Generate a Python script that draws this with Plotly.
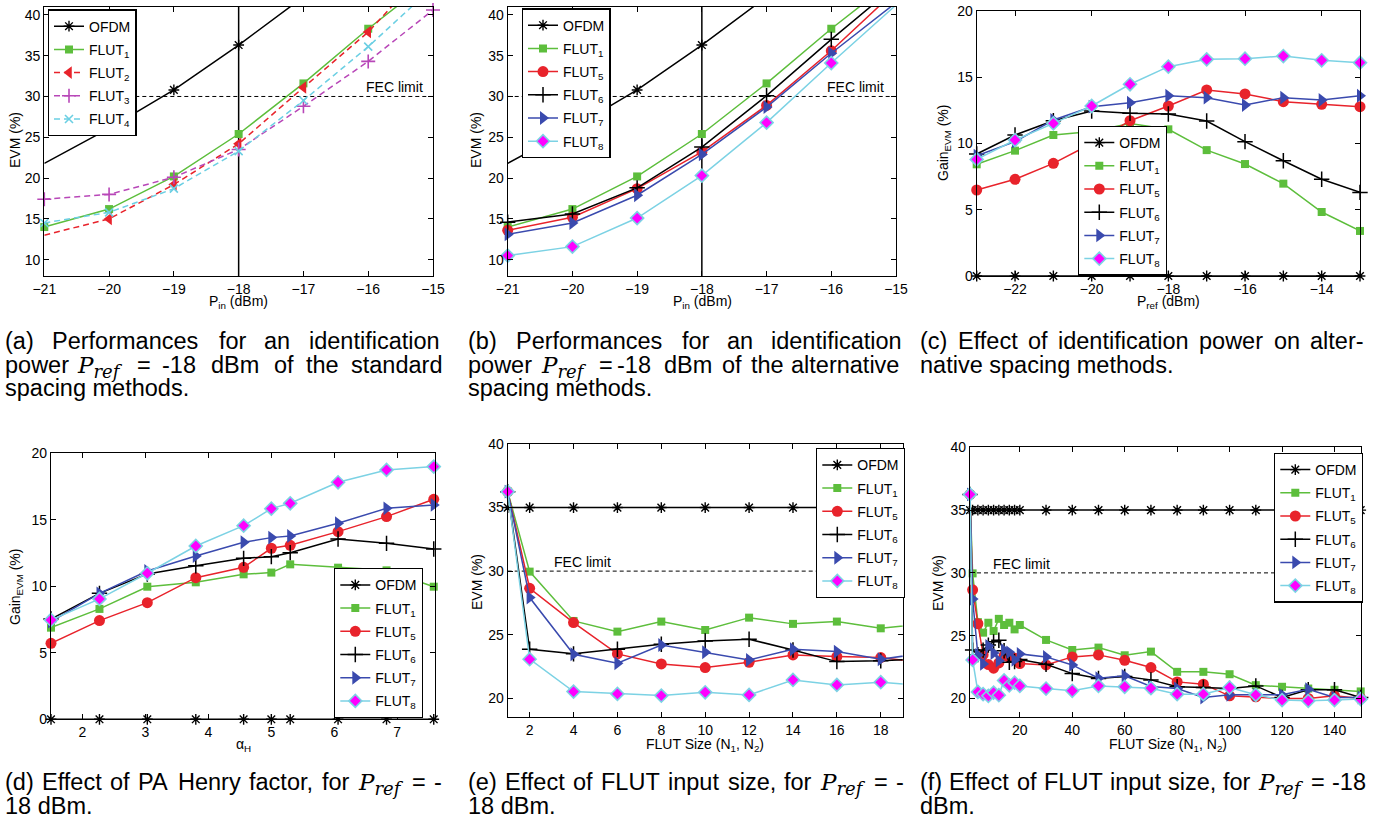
import plotly.graph_objects as go

W, H = 1381, 825

# ---------------- data ----------------
# (a) / (b): EVM vs input power
pin = [-21, -20, -19, -18, -17, -16, -15]
a_ofdm = [21.8, 26.1, 30.8, 36.3, 42.2, None, None]
a_flut1 = [14.0, 16.2, 20.2, 25.4, 31.6, 38.3, 44.5]
a_flut2 = [13.0, 15.0, 19.2, 24.2, 31.1, 37.9, 46.5]
a_flut3 = [17.4, 18.0, 20.1, 23.5, 28.8, 34.3, 40.6]
a_flut4 = [14.5, 15.8, 18.7, 23.3, 29.5, 36.1, 43.4]
b_flut5 = [13.6, 15.2, 18.7, 23.2, 28.9, 35.6, 43.0]
b_flut6 = [14.6, 15.6, 18.8, 23.8, 30.1, 37.0, 43.6]
b_flut7 = [13.1, 14.5, 17.9, 22.9, 28.7, 35.3, 41.5]
b_flut8 = [10.5, 11.6, 15.1, 20.3, 26.8, 34.1, 41.2]

# (c): gain vs identification power
pref = [-23, -22, -21, -20, -19, -18, -17, -16, -15, -14, -13]
c_ofdm = [0, 0, 0, 0, 0, 0, 0, 0, 0, 0, 0]
c_flut1 = [8.43, 9.46, 10.64, 10.9, 11.5, 11.07, 9.5, 8.45, 6.97, 4.83, 3.4]
c_flut5 = [6.49, 7.3, 8.5, 10.0, 11.72, 12.83, 14.04, 13.74, 13.16, 12.96, 12.78]
c_flut6 = [9.21, 10.64, 11.72, 12.45, 12.28, 12.23, 11.7, 10.14, 8.7, 7.3, 6.31]
c_flut7 = [9.08, 10.14, 11.77, 12.78, 13.08, 13.6, 13.46, 12.9, 13.46, 13.28, 13.6]
c_flut8 = [8.8, 10.26, 11.52, 12.83, 14.47, 15.8, 16.35, 16.4, 16.6, 16.28, 16.1]

# (d): gain vs Henry factor
alpha_h = [1.5, 2.27, 3.03, 3.8, 4.56, 5.0, 5.3, 6.06, 6.83, 7.58]
d_ofdm = [0, 0, 0, 0, 0, 0, 0, 0, 0, 0]
d_flut1 = [6.89, 8.3, 9.97, 10.3, 10.9, 11.03, 11.65, 11.4, 11.2, 9.97]
d_flut5 = [5.71, 7.42, 8.77, 10.65, 11.43, 12.86, 13.08, 14.11, 15.24, 16.54]
d_flut6 = [7.54, 9.47, 10.93, 11.55, 12.1, 12.23, 12.53, 13.56, 13.23, 12.81]
d_flut7 = [7.34, 9.47, 11.15, 12.28, 13.31, 13.66, 13.78, 14.74, 15.86, 16.12]
d_flut8 = [7.47, 9.05, 10.98, 13.03, 14.56, 15.84, 16.24, 17.82, 18.75, 19.0]

# (e) / (f): EVM vs FLUT size
nsize = [1, 2, 4, 6, 8, 10, 12, 14, 16, 18, 20, 30, 40, 50, 60, 70, 80, 90, 100, 110, 120, 130, 140, 150]
s_ofdm = [35, 35, 35, 35, 35, 35, 35, 35, 35, 35, 35, 35, 35, 35, 35, 35, 35, 35, 35, 35, 35, 35, 35, 35]
s_flut1 = [36.25, 29.96, 26.08, 25.24, 26.03, 25.37, 26.34, 25.85, 26.03, 25.5, 25.85, 24.66, 23.86, 24.05, 23.44, 23.73, 22.12, 22.12, 21.93, 21.06, 20.93, 20.79, 20.69, 20.56]
s_flut5 = [36.25, 28.65, 25.95, 23.49, 22.7, 22.41, 22.83, 23.41, 23.28, 23.2, 22.78, 22.67, 23.31, 23.47, 23.04, 22.46, 21.32, 21.14, 20.21, 20.13, 20.0, 20.0, 20.21, 20.0]
s_flut6 = [36.25, 23.85, 23.49, 23.85, 24.25, 24.51, 24.64, 23.8, 22.88, 22.94, 23.1, 22.72, 21.98, 21.59, 21.75, 21.48, 20.93, 20.87, 20.79, 21.0, 20.08, 20.69, 20.69, 20.08]
s_flut7 = [36.25, 27.92, 23.46, 22.75, 24.19, 23.62, 23.01, 23.85, 23.67, 23.07, 23.55, 23.31, 22.67, 21.61, 21.8, 20.95, 20.79, 20.08, 20.29, 20.29, 20.29, 20.74, 20.08, 20.08]
s_flut8 = [36.25, 23.07, 20.52, 20.34, 20.21, 20.47, 20.26, 21.44, 21.05, 21.26, 21.0, 20.79, 20.61, 21.0, 20.93, 20.82, 20.34, 20.34, 20.87, 20.29, 19.87, 19.81, 19.87, 19.95]

fec_limit = 30
p_ident = -18

# ---------------- styles ----------------
GREEN = '#5DBE3C'
RED = '#E8232B'
MAG = '#B847B8'
CYAN = '#6BCFE3'
BLUE = '#3A4AAE'
CYAN8 = '#7CD2E4'
LW = 1.5

STY = {
    'OFDM': dict(lc='black', dash='solid',
                 marker=dict(symbol='asterisk-open', size=9, color='black', line=dict(width=1.4, color='black'))),
    'FLUT1': dict(lc=GREEN, dash='solid',
                  marker=dict(symbol='square', size=8, color=GREEN, line=dict(width=0))),
    'FLUT2': dict(lc=RED, dash='6px,4px',
                  marker=dict(symbol='triangle-left', size=11, color=RED, line=dict(width=0))),
    'FLUT3': dict(lc=MAG, dash='6px,4px',
                  marker=dict(symbol='cross-thin-open', size=10, color=MAG, line=dict(width=1.6, color=MAG))),
    'FLUT4': dict(lc=CYAN, dash='6px,4px',
                  marker=dict(symbol='x-thin-open', size=8, color=CYAN, line=dict(width=1.6, color=CYAN))),
    'FLUT5': dict(lc=RED, dash='solid',
                  marker=dict(symbol='circle', size=11, color=RED, line=dict(width=0))),
    'FLUT6': dict(lc='black', dash='solid',
                  marker=dict(symbol='cross-thin-open', size=11, color='black', line=dict(width=1.5, color='black'))),
    'FLUT7': dict(lc=BLUE, dash='solid',
                  marker=dict(symbol='triangle-right', size=12, color=BLUE, line=dict(width=0))),
    'FLUT8': dict(lc=CYAN8, dash='solid',
                  marker=dict(symbol='diamond', size=10, color='#FF00FF', line=dict(width=1.6, color=CYAN8))),
}

LABEL = {'OFDM': 'OFDM'}
for k in range(1, 9):
    LABEL[f'FLUT{k}'] = f'FLUT<sub>{k}</sub>'

FONT = 'Liberation Sans, Arial, sans-serif'

fig = go.Figure()


def add_series(idx, x, y, key, xr, yr, skip=()):
    xa = 'x' if idx == 1 else f'x{idx}'
    ya = 'y' if idx == 1 else f'y{idx}'
    leg = 'legend' if idx == 1 else f'legend{idx}'
    st = STY[key]
    line = dict(color=st['lc'], width=LW, dash=st['dash'])
    fig.add_trace(go.Scatter(x=x, y=y, mode='lines', line=line, xaxis=xa, yaxis=ya,
                             showlegend=False, hoverinfo='skip'))
    mx, my = [], []
    for i, (xi, yi) in enumerate(zip(x, y)):
        if yi is None or i in skip:
            continue
        if xr[0] - 1e-9 <= xi <= xr[1] + 1e-9 and yr[0] - 1e-9 <= yi <= yr[1] + 1e-9:
            mx.append(xi)
            my.append(yi)
    fig.add_trace(go.Scatter(x=mx, y=my, mode='markers', marker=st['marker'], cliponaxis=False,
                             xaxis=xa, yaxis=ya, showlegend=False, hoverinfo='skip'))
    fig.add_trace(go.Scatter(x=[None], y=[None], mode='lines+markers', line=line, marker=st['marker'],
                             name=LABEL[key], legend=leg, legendgroup=f'{leg}-{key}',
                             xaxis=xa, yaxis=ya))


# panel geometry (pixels) : left, right, top, bottom
PANELS = {
    1: dict(px=(44.3, 433.0, 6.7, 276.0), xr=(-21, -15), yr=(8, 41),
            xt=[-21, -20, -19, -18, -17, -16, -15], yt=[10, 15, 20, 25, 30, 35, 40]),
    2: dict(px=(507.7, 896.0, 6.7, 276.0), xr=(-21, -15), yr=(8, 41),
            xt=[-21, -20, -19, -18, -17, -16, -15], yt=[10, 15, 20, 25, 30, 35, 40]),
    3: dict(px=(976.7, 1360.0, 11.0, 276.0), xr=(-23, -13), yr=(0, 20),
            xt=[-22, -20, -18, -16, -14], yt=[0, 5, 10, 15, 20]),
    4: dict(px=(51.0, 435.0, 453.3, 719.3), xr=(1.5, 7.6), yr=(0, 20),
            xt=[2, 3, 4, 5, 6, 7], yt=[0, 5, 10, 15, 20]),
    5: dict(px=(507.7, 902.7, 444.0, 717.3), xr=(1, 19), yr=(18.5, 40),
            xt=[2, 4, 6, 8, 10, 12, 14, 16, 18], yt=[20, 25, 30, 35, 40]),
    6: dict(px=(970.0, 1360.7, 447.3, 717.3), xr=(1, 150), yr=(18.5, 40),
            xt=[20, 40, 60, 80, 100, 120, 140], yt=[20, 25, 30, 35, 40]),
}

axis_common = dict(showline=True, linecolor='black', linewidth=1.3, mirror='ticks',
                   ticks='inside', ticklen=5, tickwidth=1, tickcolor='black',
                   showgrid=False, zeroline=False, automargin=False,
                   tickfont=dict(family=FONT, size=14, color='black'))

for i, p in PANELS.items():
    l, r, t, b = p['px']
    xk = 'xaxis' if i == 1 else f'xaxis{i}'
    yk = 'yaxis' if i == 1 else f'yaxis{i}'
    fig.update_layout({
        xk: dict(domain=[l / W, r / W], range=list(p['xr']), anchor='y' if i == 1 else f'y{i}',
                 tickvals=p['xt'], **axis_common),
        yk: dict(domain=[1 - b / H, 1 - t / H], range=list(p['yr']), anchor='x' if i == 1 else f'x{i}',
                 tickvals=p['yt'], **axis_common),
    })

# ---- traces ----
P = PANELS
add_series(1, pin, a_ofdm, 'OFDM', P[1]['xr'], P[1]['yr'], skip=(0,))
add_series(1, pin, a_flut1, 'FLUT1', P[1]['xr'], P[1]['yr'])
add_series(1, pin, a_flut2, 'FLUT2', P[1]['xr'], P[1]['yr'], skip=(0,))
add_series(1, pin, a_flut3, 'FLUT3', P[1]['xr'], P[1]['yr'])
add_series(1, pin, a_flut4, 'FLUT4', P[1]['xr'], P[1]['yr'])

add_series(2, pin, a_ofdm, 'OFDM', P[2]['xr'], P[2]['yr'], skip=(0,))
add_series(2, pin, a_flut1, 'FLUT1', P[2]['xr'], P[2]['yr'])
add_series(2, pin, b_flut5, 'FLUT5', P[2]['xr'], P[2]['yr'])
add_series(2, pin, b_flut6, 'FLUT6', P[2]['xr'], P[2]['yr'])
add_series(2, pin, b_flut7, 'FLUT7', P[2]['xr'], P[2]['yr'])
add_series(2, pin, b_flut8, 'FLUT8', P[2]['xr'], P[2]['yr'])

for key, ys in [('OFDM', c_ofdm), ('FLUT1', c_flut1), ('FLUT5', c_flut5), ('FLUT6', c_flut6),
                ('FLUT7', c_flut7), ('FLUT8', c_flut8)]:
    add_series(3, pref, ys, key, P[3]['xr'], P[3]['yr'])

for key, ys in [('OFDM', d_ofdm), ('FLUT1', d_flut1), ('FLUT5', d_flut5), ('FLUT6', d_flut6),
                ('FLUT7', d_flut7), ('FLUT8', d_flut8)]:
    add_series(4, alpha_h, ys, key, P[4]['xr'], P[4]['yr'])

for idx in (5, 6):
    for key, ys in [('OFDM', s_ofdm), ('FLUT1', s_flut1), ('FLUT5', s_flut5), ('FLUT6', s_flut6),
                    ('FLUT7', s_flut7), ('FLUT8', s_flut8)]:
        add_series(idx, nsize, ys, key, P[idx]['xr'], P[idx]['yr'])

# ---- shapes: identification power marker and FEC limit ----
shapes = []
for i in (1, 2):
    xa = 'x' if i == 1 else f'x{i}'
    ya = 'y' if i == 1 else f'y{i}'
    shapes.append(dict(type='line', xref=xa, yref=f'{ya} domain', x0=p_ident, x1=p_ident, y0=0, y1=1,
                       line=dict(color='black', width=1.5), layer='below'))
for i in (1, 2, 5, 6):
    xa = 'x' if i == 1 else f'x{i}'
    ya = 'y' if i == 1 else f'y{i}'
    shapes.append(dict(type='line', xref=f'{xa} domain', yref=ya, x0=0, x1=1, y0=fec_limit, y1=fec_limit,
                       line=dict(color='black', width=1, dash='4px,3px'), layer='below'))
fig.update_layout(shapes=shapes)

ann = []
# FEC labels
for xa, ya, xv, anchor in [('x', 'y', -15.12, 'right'), ('x2', 'y2', -15.15, 'right'),
                           ('x5', 'y5', 3.0, 'left'), ('x6', 'y6', 9.0, 'left')]:
    ann.append(dict(xref=xa, yref=ya, x=xv, y=fec_limit, xanchor=anchor, yanchor='bottom', yshift=-1,
                    text='FEC limit', showarrow=False, font=dict(family=FONT, size=14, color='black')))


def pann(text, x, y, xanchor='center', yanchor='top', size=14, angle=0, family=FONT):
    ann.append(dict(xref='paper', yref='paper', x=x / W, y=1 - y / H, xanchor=xanchor, yanchor=yanchor,
                    text=text, showarrow=False, textangle=angle, borderpad=0, borderwidth=0,
                    font=dict(family=family, size=size, color='black')))


# axis titles
pann('P<sub>in</sub> (dBm)', 238, 293)
pann('P<sub>in</sub> (dBm)', 702, 293)
pann('P<sub>ref</sub> (dBm)', 1168, 293)
pann('α<sub>H</sub>', 243, 736)
pann('FLUT Size (N<sub>1</sub>, N<sub>2</sub>)', 705, 736)
pann('FLUT Size (N<sub>1</sub>, N<sub>2</sub>)', 1168, 736)
pann('EVM (%)', 15, 140, yanchor='middle', angle=-90)
pann('EVM (%)', 476, 140, yanchor='middle', angle=-90)
pann('Gain<sub>EVM</sub> (%)', 944, 143, yanchor='middle', angle=-90)
pann('Gain<sub>EVM</sub> (%)', 16, 587, yanchor='middle', angle=-90)
pann('EVM (%)', 477, 582, yanchor='middle', angle=-90)
pann('EVM (%)', 938, 583, yanchor='middle', angle=-90)

# legends
LEG = {1: (47.7, 9.3), 2: (521.7, 8.3), 3: (1078.0, 125.7), 4: (334.0, 568.0), 5: (816.0, 448.0), 6: (1274.0, 452.7)}
for i, (lx, ly) in LEG.items():
    key = 'legend' if i == 1 else f'legend{i}'
    fig.update_layout({key: dict(x=lx / W, y=1 - ly / H, xanchor='left', yanchor='top',
                                 bgcolor='white', bordercolor='black', borderwidth=1.3,
                                 font=dict(family=FONT, size=14, color='black'),
                                 traceorder='grouped', tracegroupgap=2, itemwidth=30)})

# ---------------- captions ----------------
CS = 23.5
PREF = ('<span style="font-family:DejaVu Serif;font-size:23px"><i>P</i>'
        '<sub><span style="font-size:18px"><i>ref</i></span></sub></span>')
PREF_W = 46.0
ASC = 0.905 * CS

# Arial / Liberation Sans advance widths (per 1000 em) used to justify caption lines
AW = dict(zip('abcdefghijklmnopqrstuvwxyz',
              [556, 556, 500, 556, 556, 278, 556, 556, 222, 222, 500, 222, 833, 556, 556, 556, 556, 333,
               500, 278, 556, 500, 722, 500, 500, 500]))
AW.update(dict(zip('ABCDEFGHILMNOPRSTUV',
                   [667, 667, 722, 722, 667, 611, 778, 722, 278, 556, 833, 722, 778, 667, 722, 667, 611, 722, 667])))
AW.update({c: 556 for c in '0123456789'})
AW.update({' ': 278, '(': 333, ')': 333, ',': 278, '.': 278, '-': 333, '=': 584})


def tw(word):
    if word == PREF:
        return PREF_W
    return sum(AW.get(c, 556) for c in word) * CS / 1000.0


def cap_words(words, baseline):
    for w, x in words:
        pann(w, x - 1, baseline - ASC, xanchor='left', yanchor='top', size=CS)


def cap_justify(words, left, right, baseline):
    widths = [tw(w) for w in words]
    gap = (right - left - sum(widths)) / (len(words) - 1)
    x = left
    out = []
    for w, wd in zip(words, widths):
        out.append((w, x))
        x += wd + gap
    cap_words(out, baseline)


B1, B2, B3 = 349.7, 373.0, 396.3
R1, R2 = 790.5, 814.0

cap_words([('(a)', 6), ('Performances', 53), ('for', 220), ('an', 265), ('identification', 310)], B1)
cap_words([('power', 6), (PREF, 78), ('=', 138), ('-18', 163), ('dBm', 212), ('of', 275), ('the', 307),
           ('standard', 352)], B2)
cap_words([('spacing methods.', 6)], B3)
cap_words([('(b)', 469), ('Performances', 517), ('for', 683), ('an', 728), ('identification', 772)], B1)
cap_words([('power', 469), (PREF, 542), ('=', 600), ('-18', 618), ('dBm', 665), ('of', 723), ('the', 752),
           ('alternative', 792)], B2)
cap_words([('spacing methods.', 469)], B3)
cap_justify(['(c)', 'Effect', 'of', 'identification', 'power', 'on', 'alter-'], 921, 1365, B1)
cap_words([('native spacing methods.', 921)], B2)
cap_justify(['(d)', 'Effect', 'of', 'PA', 'Henry', 'factor,', 'for', PREF, '=', '-'], 6, 443, R1)
cap_words([('18 dBm.', 6)], R2)
cap_justify(['(e)', 'Effect', 'of', 'FLUT', 'input', 'size,', 'for', PREF, '=', '-'], 469, 905, R1)
cap_words([('18 dBm.', 469)], R2)
cap_justify(['(f)', 'Effect', 'of', 'FLUT', 'input', 'size,', 'for', PREF, '=', '-18'], 921, 1367, R1)
cap_words([('dBm.', 921)], R2)

fig.update_layout(template='none', annotations=ann, width=W, height=H,
                  margin=dict(l=0, r=0, t=0, b=0, pad=0, autoexpand=False),
                  paper_bgcolor='white', plot_bgcolor='white', showlegend=True)

fig.write_html('out.html', config={'displayModeBar': False},
               post_script="document.body.style.margin='0';document.body.style.overflow='hidden';")
